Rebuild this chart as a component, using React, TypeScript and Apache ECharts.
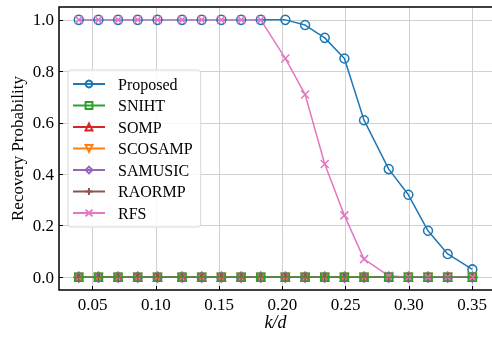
import React, { useEffect, useRef } from "react";
import * as echarts from "echarts";

const kOverD = [0.0391, 0.0547, 0.0703, 0.0859, 0.1016, 0.1211, 0.1367, 0.1523, 0.168, 0.1836, 0.2031, 0.2188, 0.2344, 0.25, 0.2656, 0.2852, 0.3008, 0.3164, 0.332, 0.3516];
const proposed = [1, 1, 1, 1, 1, 1, 1, 1, 1, 1, 1, 0.98, 0.93, 0.85, 0.61, 0.42, 0.32, 0.18, 0.09, 0.03];
const sniht = [0, 0, 0, 0, 0, 0, 0, 0, 0, 0, 0, 0, 0, 0, 0, 0, 0, 0, 0, 0];
const somp = [0, 0, 0, 0, 0, 0, 0, 0, 0, 0, 0, 0, 0, 0, 0, 0, 0, 0, 0, 0];
const scosamp = [0, 0, 0, 0, 0, 0, 0, 0, 0, 0, 0, 0, 0, 0, 0, 0, 0, 0, 0, 0];
const samusic = [0, 0, 0, 0, 0, 0, 0, 0, 0, 0, 0, 0, 0, 0, 0, 0, 0, 0, 0, 0];
const raormp = [0, 0, 0, 0, 0, 0, 0, 0, 0, 0, 0, 0, 0, 0, 0, 0, 0, 0, 0, 0];
const rfs = [1, 1, 1, 1, 1, 1, 1, 1, 1, 1, 0.85, 0.71, 0.44, 0.24, 0.07, 0.005, 0, 0, 0, 0];

const seriesNames = ["Proposed", "SNIHT", "SOMP", "SCOSAMP", "SAMUSIC", "RAORMP", "RFS"];
const seriesValues = [proposed, sniht, somp, scosamp, samusic, raormp, rfs];
const seriesColors = ["#1f77b4", "#2ca02c", "#d62728", "#ff7f0e", "#9467bd", "#8c564b", "#e377c2"];
const seriesSymbols = [
  "circle",
  "rect",
  "triangle",
  "triangle",
  "diamond",
  "path://M5 0L5 10M0 5L10 5",
  "path://M0 0L10 10M0 10L10 0",
];
const seriesRotate = [0, 0, 0, 180, 0, 0, 0];
const seriesSizes = [9, 8, 8, 8, 10, 8, 8];
const seriesZ = [2, 3, 2, 2, 2, 2, 2];

const xTicks = [0.05, 0.35];
const yTicks = [0, 1];

const FONT = "Liberation Serif";

export default function App() {
  const ref = useRef<HTMLDivElement>(null);
  useEffect(() => {
    if (!ref.current) return;
    const chart = echarts.init(ref.current, null, { renderer: "svg" });
    const L = 59, R = 494, T = 7, B = 290;
    const xmin = 0.0234, xmax = 0.3672, ymin = -0.05, ymax = 1.05;
    const px = (v: number) => L + ((v - xmin) / (xmax - xmin)) * (R - L);
    const py = (v: number) => B - ((v - ymin) / (ymax - ymin)) * (B - T);
    const W = 492, H = 339;

    const series = seriesNames.map((name, i) => ({
      name,
      type: "line",
      xAxisIndex: 0,
      yAxisIndex: 0,
      z: seriesZ[i],
      data: kOverD.map((x, j) => [x, seriesValues[i][j]]),
      symbol: seriesSymbols[i],
      symbolSize: seriesSizes[i],
      symbolRotate: seriesRotate[i],
      showAllSymbol: true,
      lineStyle: { color: seriesColors[i], width: 1.5 },
      itemStyle: { color: "rgba(255,255,255,0)", borderColor: seriesColors[i], borderWidth: 1.5 },
      emphasis: { disabled: true },
    }));

    chart.setOption({
      animation: false,
      grid: [
        { left: L, right: W - R, top: T, bottom: H - B },
        { left: px(xTicks[0]), right: W - px(xTicks[1]), top: T, bottom: H - B },
        { left: L, right: W - R, top: py(yTicks[1]), bottom: H - py(yTicks[0]) },
      ],
      xAxis: [
        {
          gridIndex: 0, type: "value", min: xmin, max: xmax,
          axisLine: { show: false }, axisTick: { show: false }, axisLabel: { show: false }, splitLine: { show: false },
          name: "k/d", nameLocation: "middle", nameGap: 23,
          nameTextStyle: { fontFamily: FONT, fontSize: 18, fontStyle: "italic", color: "#000" },
        },
        {
          gridIndex: 1, type: "value", min: xTicks[0], max: xTicks[1], interval: 0.05,
          axisLine: { show: false },
          axisTick: { show: true, inside: true, length: 4, lineStyle: { color: "#000", width: 1 } },
          axisLabel: { show: true, margin: 6, fontFamily: FONT, fontSize: 17, color: "#000", formatter: (v: number) => v.toFixed(2) },
          splitLine: { show: true, lineStyle: { color: "#d0d0d0", width: 1 } },
        },
        { gridIndex: 2, type: "value", show: false, min: 0, max: 1 },
      ],
      yAxis: [
        {
          gridIndex: 0, type: "value", min: ymin, max: ymax,
          axisLine: { show: false }, axisTick: { show: false }, axisLabel: { show: false }, splitLine: { show: false },
          name: "Recovery Probability", nameLocation: "middle", nameGap: 33,
          nameTextStyle: { fontFamily: FONT, fontSize: 17, color: "#000" },
        },
        { gridIndex: 1, type: "value", show: false, min: 0, max: 1 },
        {
          gridIndex: 2, type: "value", min: yTicks[0], max: yTicks[1], interval: 0.2,
          axisLine: { show: false },
          axisTick: { show: true, inside: true, length: 4, lineStyle: { color: "#000", width: 1 } },
          axisLabel: { show: true, margin: 5, fontFamily: FONT, fontSize: 17, color: "#000", formatter: (v: number) => v.toFixed(1) },
          splitLine: { show: true, lineStyle: { color: "#d0d0d0", width: 1 } },
        },
      ],
      legend: {
        data: seriesNames,
        orient: "vertical",
        left: 68,
        top: 70,
        itemWidth: 32,
        itemHeight: 8.5,
        itemGap: 5.5,
        padding: [6, 8, 6, 4],
        backgroundColor: "rgba(255,255,255,0.85)",
        borderColor: "#d8d8d8",
        borderWidth: 1,
        borderRadius: 3,
        selectedMode: false,
        textStyle: { fontFamily: FONT, fontSize: 16, color: "#000", lineHeight: 14, padding: [0, 0, 0, 8] },
      },
      graphic: [
        {
          type: "rect",
          shape: { x: L, y: T, width: R - L, height: B - T },
          style: { fill: "none", stroke: "#000", lineWidth: 1.5 },
          z: 10,
          silent: true,
        },
      ],
      series,
    });
    return () => chart.dispose();
  }, []);
  return <div ref={ref} style={{ position: "fixed", left: 0, top: 0, width: 492, height: 339 }} />;
}
